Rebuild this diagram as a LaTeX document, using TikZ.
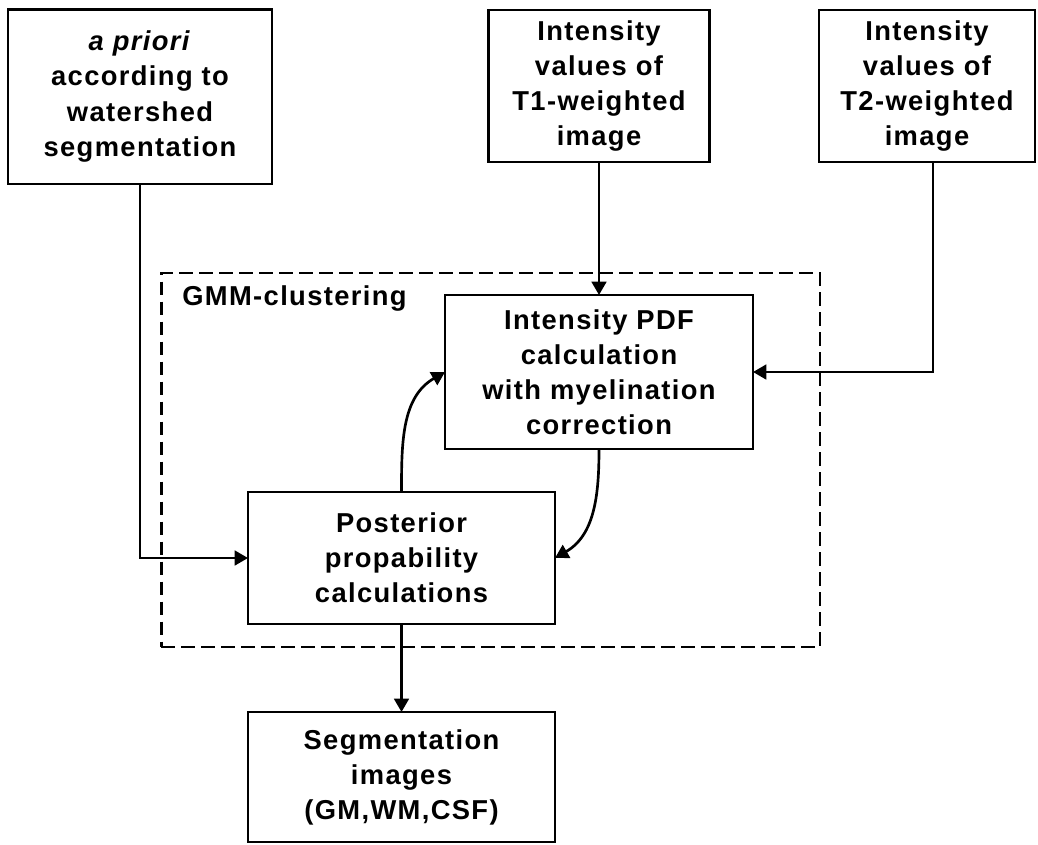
\documentclass[tikz,border=0pt]{standalone}
\usepackage{fontspec}
\setmainfont{Liberation Sans}[LetterSpace=5]
\usetikzlibrary{arrows.meta}

\begin{document}
\begin{tikzpicture}[x=0.75pt,y=-0.75pt,->,>={Triangle[length=10pt,width=11pt]},line width=2pt]
        \tikzstyle{box}=[draw,rectangle,line width=2pt,inner sep=0pt,outer sep=0pt,align=center,font=\fontsize{20.5}{26.3}\selectfont\bfseries]

        \useasboundingbox (0,0) rectangle (1038,844);

        % GMM frame
        \node[box,dash pattern=on 10pt off 5pt,minimum width=494pt,minimum height=280.5pt] (G) at (490.5,460) {};
        \node[anchor=base west,inner sep=0pt,font=\fontsize{20.5}{26.3}\selectfont\bfseries] (L) at (181,305) {GMM-clustering};

        \node[box,minimum width=198pt,minimum height=131pt] (A) at (140,96.5) {\textit{a priori}\\according to\\watershed\\segmentation};
        \node[box,minimum width=165.75pt,minimum height=114pt] (B) at (599,86) {Intensity\\values of\\T1-weighted\\image};
        \node[box,minimum width=162pt,minimum height=114pt] (C) at (927,86) {Intensity\\values of\\T2-weighted\\image};
        \node[box,minimum width=231pt,minimum height=115.5pt] (D) at (599,372) {Intensity PDF\\calculation\\with myelination\\correction};
        \node[box,minimum width=230.25pt,minimum height=99pt] (E) at (401.5,558) {Posterior\\propability\\calculations};
        \node[box,minimum width=230.25pt,minimum height=97.5pt] (F) at (401.5,777) {Segmentation\\images\\(GM,WM,CSF)};

    \draw   (A.south) |- (E.west);
    \draw   ([xshift=4.5pt]C.south) |- (D.east);
    \path   (B) edge              (D)
            (D) edge [out=-90,in=30]  (E.east)
            (E) edge [out=90,in=-150] (D.west)
            (E) edge              (F);
\end{tikzpicture}
\end{document}
